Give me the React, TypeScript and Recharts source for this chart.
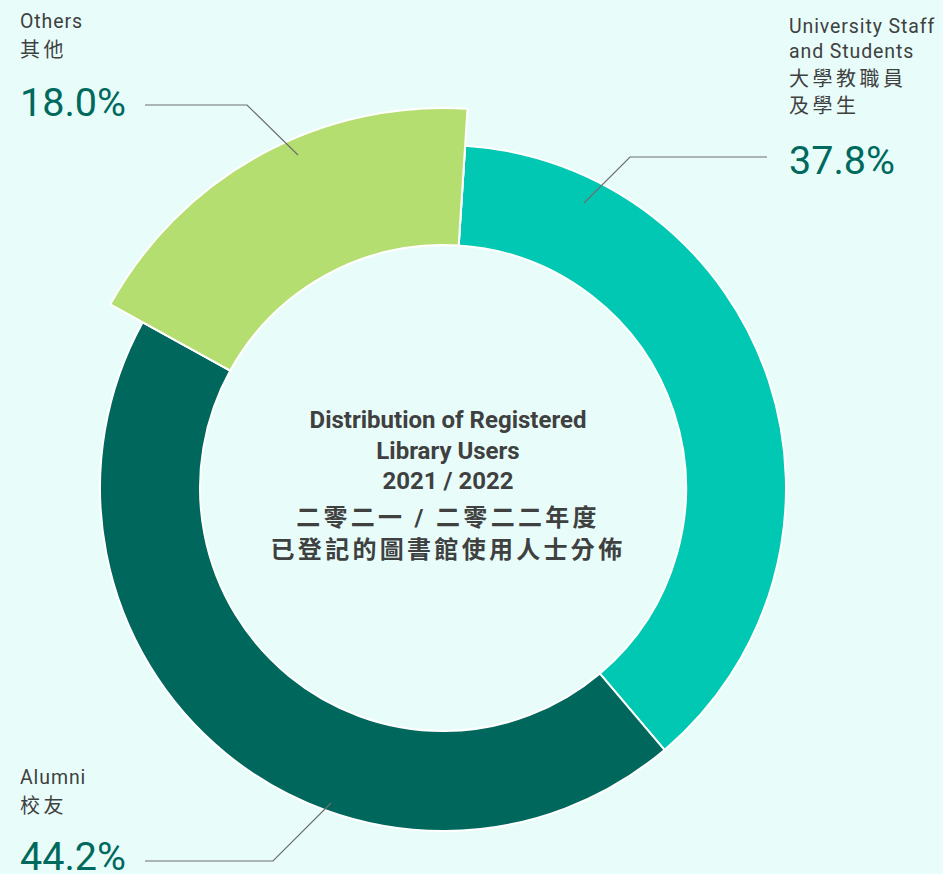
import React from 'react';
import { PieChart, Pie, Cell } from 'recharts';

// chart values
const categoriesEn = [['University Staff', 'and Students'], ['Alumni'], ['Others']];
const categoriesZh = [['大學教職員', '及學生'], ['校友'], ['其他']];
const shares = [37.8, 44.2, 18.0];

const colors = ['#00C8B2', '#00675C', '#B5DE71'];
const highlighted = [false, false, true];

const titleEn = ['Distribution of Registered', 'Library Users', '2021 / 2022'];
const titleZh = ['二零二一 / 二零二二年度', '已登記的圖書館使用人士分佈'];

const data = shares.map((v, i) => ({
  name: categoriesEn[i].join(' '),
  value: v,
  en: categoriesEn[i],
  zh: categoriesZh[i],
}));

const FONT = "Roboto, 'Noto Sans CJK TC', sans-serif";
const TEXT = '#3F4040';
const PCT = '#00695D';
const LINE = '#6E6E6E';

// annotation layout (label blocks + leader lines), by slice index
const labelLayout = [
  { x: 789, lines: [33, 58, 86, 113], pctY: 174, leader: [[767, 157], [630, 157], [584, 203]] },
  { x: 20, lines: [784, 813], pctY: 870, leader: [[145, 861], [273, 861], [331, 803]] },
  { x: 20, lines: [28, 57], pctY: 116, leader: [[145, 105], [247, 105], [298, 155]] },
];

const renderLabel = (props: any) => {
  const { index, value } = props;
  const layout = labelLayout[index];
  const entry = data[index];
  const textLines = [...entry.en, ...entry.zh];
  return (
    <g key={`label-${index}`}>
      <polyline
        points={layout.leader.map((p) => p.join(',')).join(' ')}
        fill="none"
        stroke={LINE}
        strokeWidth={1.2}
      />
      {textLines.map((t, i) => {
        const zh = i >= entry.en.length;
        return (
          <text
            key={i}
            x={layout.x}
            y={layout.lines[i]}
            fontSize={zh ? 20 : 19.5}
            fill={TEXT}
            fontFamily={FONT}
            letterSpacing={zh ? 3.5 : 0.9}
          >
            {t}
          </text>
        );
      })}
      <text x={layout.x} y={layout.pctY} fontSize={39.5} fill={PCT} fontFamily={FONT}>
        {`${Number(value).toFixed(1)}%`}
      </text>
    </g>
  );
};

const CX = 443;
const CY = 488;
const START = 86.3;

export default function App() {
  return (
    <div style={{ position: 'absolute', left: 0, top: 0, width: 943, height: 874, background: '#E8FDFA', overflow: 'hidden' }}>
      <PieChart width={943} height={874} margin={{ top: 0, right: 0, bottom: 0, left: 0 }}>
        <Pie
          data={data}
          dataKey="value"
          cx={CX}
          cy={CY}
          innerRadius={243}
          outerRadius={343}
          startAngle={START}
          endAngle={START - 360}
          stroke="#FFFFFF"
          strokeWidth={2}
          isAnimationActive={false}
          label={renderLabel}
          labelLine={false}
        >
          {data.map((d, i) => (
            <Cell key={d.name} fill={colors[i]} />
          ))}
        </Pie>
        <Pie
          data={data}
          dataKey="value"
          cx={CX}
          cy={CY}
          innerRadius={243}
          outerRadius={380}
          startAngle={START}
          endAngle={START - 360}
          isAnimationActive={false}
        >
          {data.map((d, i) => (
            <Cell
              key={d.name}
              fill={highlighted[i] ? colors[i] : 'none'}
              stroke={highlighted[i] ? '#FFFFFF' : 'none'}
              strokeWidth={2}
            />
          ))}
        </Pie>
        <g>
          {titleEn.map((t, i) => (
            <text key={t} x={448} y={428 + i * 30.5} textAnchor="middle" fontSize={24} fontWeight={700} fill={TEXT} fontFamily={FONT}>
              {t}
            </text>
          ))}
          {titleZh.map((t, i) => (
            <text key={t} x={448} y={526 + i * 32} textAnchor="middle" fontSize={24} fontWeight={700} fill={TEXT} fontFamily={FONT} letterSpacing={3.3}>
              {t}
            </text>
          ))}
        </g>
      </PieChart>
    </div>
  );
}
